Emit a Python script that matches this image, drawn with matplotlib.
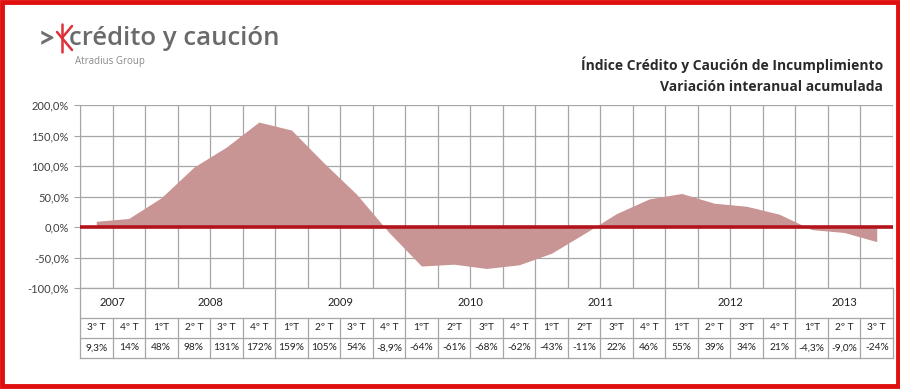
import numpy as np
import matplotlib.pyplot as plt
from matplotlib.patches import Rectangle

plt.rcParams['font.family'] = ['Lato', 'DejaVu Sans']

# datos
years = ['2007', '2008', '2009', '2010', '2011', '2012', '2013']
year_counts = [2, 4, 4, 4, 4, 4, 3]
quarters = ['3º T', '4º T', '1ºT', '2º T', '3º T', '4º T',
            '1ºT', '2º T', '3º T', '4º T',
            '1ºT', '2ºT', '3ºT', '4º T',
            '1ºT', '2ºT', '3ºT', '4º T',
            '1ºT', '2º T', '3ºT', '4º T',
            '1ºT', '2º T', '3º T']
values = [9.3, 14, 48, 98, 131, 172, 159, 105, 54, -8.9,
          -64, -61, -68, -62, -43, -11, 22, 46, 55, 39,
          34, 21, -4.3, -9.0, -24]
value_labels = ['9,3%', '14%', '48%', '98%', '131%', '172%', '159%', '105%', '54%', '-8,9%',
                '-64%', '-61%', '-68%', '-62%', '-43%', '-11%', '22%', '46%', '55%', '39%',
                '34%', '21%', '-4,3%', '-9,0%', '-24%']
yticks = [-100, -50, 0, 50, 100, 150, 200]

W, H = 900, 389
grid_col = '#a6a6a6'
txt_col = '#404040'

fig = plt.figure(figsize=(9, 3.89), dpi=100)

def fx(px):
    return px / W

def fy(py):
    return 1 - py / H

n = len(values)
x = np.arange(n) + 0.5

# grafico
ax = fig.add_axes([fx(80), fy(288), fx(893) - fx(80), fy(105) - fy(288)])
ax.fill_between(x, values, 0, color='#c99494', linewidth=0)
ax.axhline(0, color='#b3141b', linewidth=2.6, zorder=3)
ax.set_xlim(0, n)
ax.set_ylim(-100, 200)
ax.set_yticks(yticks)
ax.set_yticklabels(['%d,0%%' % v for v in yticks], fontsize=8, color=txt_col)
ax.set_xticks(np.arange(n + 1))
ax.set_xticklabels([])
ax.tick_params(axis='x', length=0)
ax.tick_params(axis='y', length=4, color=grid_col, pad=4)
ax.grid(True, color=grid_col, linewidth=0.9)
ax.set_axisbelow(True)
for s in ['top', 'right', 'bottom']:
    ax.spines[s].set_visible(False)
ax.spines['left'].set_color(grid_col)

# tabla
tb = fig.add_axes([fx(80), fy(358), fx(893) - fx(80), fy(288) - fy(358)])
tb.set_xlim(0, n)
tb.set_ylim(70, 0)
tb.axis('off')
lw = 0.9
for yy in [0, 30, 50, 70]:
    tb.plot([0, n], [yy, yy], color=grid_col, lw=lw, clip_on=False)
pos = 0
tb.plot([0, 0], [0, 70], color=grid_col, lw=lw, clip_on=False)
for yr, c in zip(years, year_counts):
    tb.text(pos + c / 2, 15, yr, ha='center', va='center', fontsize=8, color='#202020')
    pos += c
    tb.plot([pos, pos], [0, 30], color=grid_col, lw=lw, clip_on=False)
for i in range(n):
    tb.plot([i + 1, i + 1], [30, 70], color=grid_col, lw=lw, clip_on=False)
    tb.text(i + 0.5, 40, quarters[i], ha='center', va='center', fontsize=7.3, color='#202020')
    tb.text(i + 0.5, 60, value_labels[i], ha='center', va='center', fontsize=7.3, color='#202020')

# capa superior: logo, titulo, marco
ov = fig.add_axes([0, 0, 1, 1])
ov.set_xlim(0, W)
ov.set_ylim(H, 0)
ov.axis('off')
ov.text(38, 39, '>', fontsize=22, color='#707070', fontweight='bold', va='center', ha='left')
for (x0, y0, x1, y1) in [(62, 24, 62, 52), (62, 38, 72, 26), (62, 38, 72, 50), (62, 38, 57, 32)]:
    ov.plot([x0, x1], [y0, y1], color='#e0303a', lw=1.8, solid_capstyle='round')
ov.text(69, 38, 'crédito y caución', fontsize=18.5, color='#6a6a6a', fontweight='semibold',
        va='center', ha='left', family=['Open Sans', 'DejaVu Sans'])
ov.text(75, 61, 'Atradius Group', fontsize=7, color='#8a8a8a', va='center', ha='left',
        family=['Open Sans', 'DejaVu Sans'])
ov.text(883, 65, 'Índice Crédito y Caución de Incumplimiento', fontsize=10, fontweight='bold',
        color='#2a2a2a', ha='right', va='center', family=['Open Sans', 'DejaVu Sans'])
ov.text(883, 87, 'Variación interanual acumulada', fontsize=10, fontweight='bold',
        color='#2a2a2a', ha='right', va='center', family=['Open Sans', 'DejaVu Sans'])
ov.add_patch(Rectangle((2, 2), W - 4, H - 5, fill=False, edgecolor='#e01010', lw=3.5))

fig.savefig('out.png', dpi=100)
